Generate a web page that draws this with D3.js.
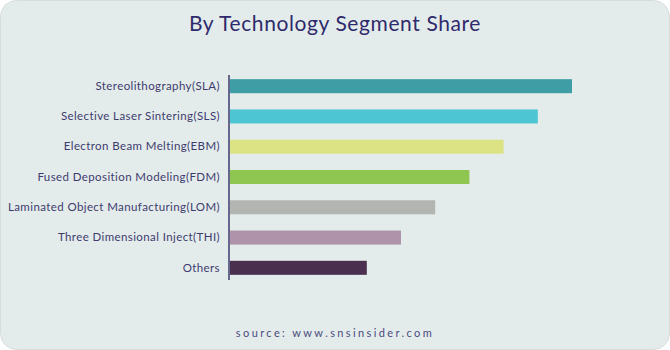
<!DOCTYPE html>
<html>
<head>
<meta charset="utf-8">
<script src="https://cdn.jsdelivr.net/npm/d3@7"></script>
<style>
  body { margin: 0; background: #fff; }
  svg { display: block; }
</style>
</head>
<body>
<div id="chart"></div>
<script>
var categories = ["Stereolithography(SLA)", "Selective Laser Sintering(SLS)", "Electron Beam Melting(EBM)",
	"Fused Deposition Modeling(FDM)", "Laminated Object Manufacturing(LOM)", "Three Dimensional Inject(THI)", "Others"];
var values = [10, 9, 8, 7, 6, 5, 4];
var colors = ["#3E9DA5", "#4DC5D2", "#DBE384", "#8FC652", "#B3B5B3", "#AF93AB", "#4A2F4F"];

var W = 670, H = 350;
var svg = d3.select("#chart").append("svg")
	.attr("width", W)
	.attr("height", H);

svg.append("rect")
	.attr("x", 0.5).attr("y", 0.5)
	.attr("width", W - 1).attr("height", H - 1)
	.attr("rx", 16)
	.style("fill", "#E4ECEB")
	.style("stroke", "#d6dedd");

svg.append("text")
	.attr("x", W / 2)
	.attr("y", 31)
	.style("text-anchor", "middle")
	.style("font-family", "Lato, 'Noto Sans', sans-serif")
	.style("font-size", "21px")
	.style("letter-spacing", "0.6px")
	.style("fill", "#2E2A6B")
	.text("By Technology Segment Share");

var x0 = 230;
var x = d3.scaleLinear()
	.domain([0, 10])
	.range([x0, 572]);

var y = d3.scaleBand()
	.domain(categories)
	.range([71, 283])
	.paddingInner(0.537)
	.paddingOuter(0.27);

var g = svg.append("g");

g.selectAll("rect.bar")
	.data(values)
	.enter()
	.append("rect")
	.attr("class", "bar")
	.attr("x", x(0))
	.attr("y", function(d, i) { return y(categories[i]); })
	.attr("width", function(d) { return x(d) - x(0); })
	.attr("height", y.bandwidth())
	.style("fill", function(d, i) { return colors[i]; });

var axis = g.append("g")
	.attr("transform", "translate(" + (x0 - 1) + ",0)")
	.call(d3.axisLeft(y).tickSize(0).tickPadding(9));

axis.select(".domain")
	.attr("d", "M0,75V280")
	.style("stroke", "#3D3B6E")
	.style("stroke-width", 1.5);

axis.selectAll("text")
	.style("font-family", "Lato, 'Noto Sans', sans-serif")
	.style("font-size", "11.5px")
	.style("letter-spacing", "0.4px")
	.style("fill", "#3D3B6E");

svg.append("text")
	.attr("x", W / 2)
	.attr("y", 337)
	.style("text-anchor", "middle")
	.style("font-family", "Lato, 'Noto Sans', sans-serif")
	.style("font-size", "11px")
	.style("letter-spacing", "2.4px")
	.style("fill", "#4a4a80")
	.text("source: www.snsinsider.com");
</script>
</body>
</html>
